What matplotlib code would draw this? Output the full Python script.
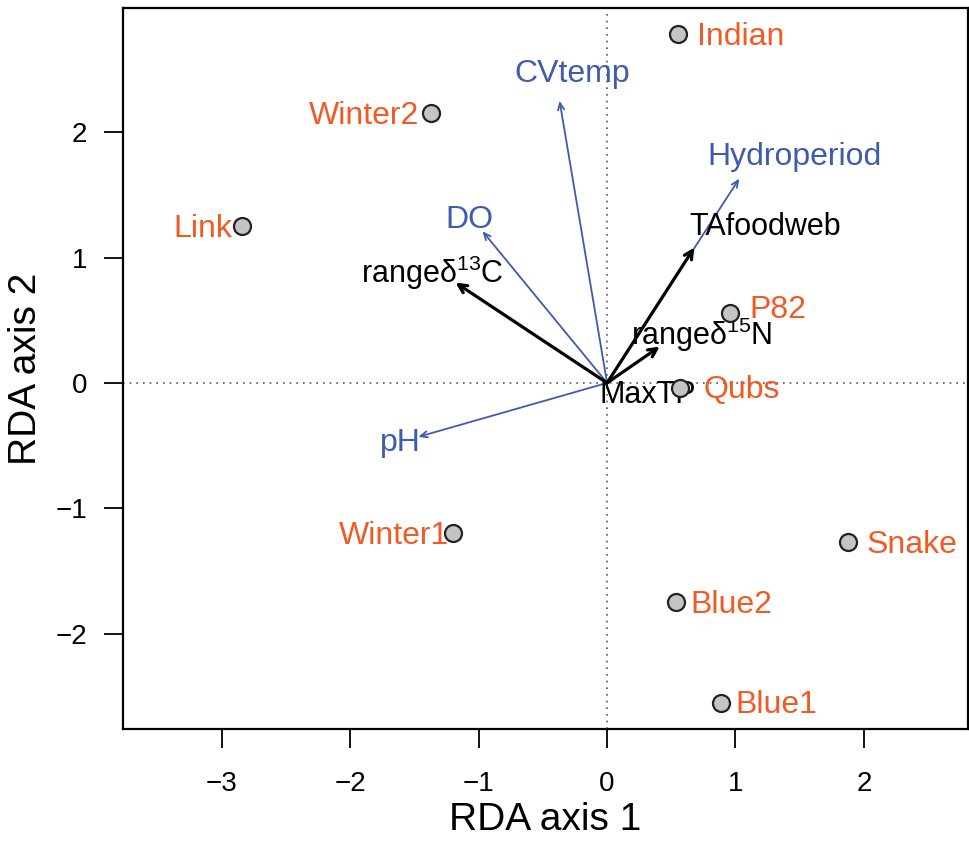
import matplotlib
matplotlib.use("Agg")
import matplotlib.pyplot as plt

plt.rcParams['font.family'] = ['Liberation Sans', 'DejaVu Sans']
plt.rcParams['mathtext.fontset'] = 'custom'
plt.rcParams['mathtext.rm'] = 'Liberation Sans'
plt.rcParams['mathtext.it'] = 'Liberation Sans'

# site scores
sites = ["Indian", "Winter2", "Link", "P82", "Qubs", "Winter1", "Snake", "Blue2", "Blue1"]
site_x = [0.55, -1.37, -2.84, 0.96, 0.57, -1.20, 1.88, 0.54, 0.89]
site_y = [2.78, 2.15, 1.25, 0.56, -0.04, -1.20, -1.27, -1.75, -2.55]
# label side: 'l' = label to left of point, 'r' = to right
site_side = ["r", "l", "l", "r", "r", "l", "r", "r", "r"]
site_lab_x = [0.70, -1.46, -2.92, 1.11, 0.75, -1.23, 2.02, 0.65, 1.00]
site_lab_y = [2.76, 2.13, 1.23, 0.58, -0.06, -1.22, -1.29, -1.77, -2.57]

# environmental vectors (blue)
env = ["CVtemp", "Hydroperiod", "DO", "pH"]
env_x = [-0.37, 1.03, -0.97, -1.47]
env_y = [2.25, 1.63, 1.21, -0.43]
env_lab_x = [-0.27, 1.46, -1.07, -1.61]
env_lab_y = [2.46, 1.80, 1.30, -0.48]

# food web metrics (black)
fw = ["range\u03b4$^{13}$C", "TAfoodweb", "range\u03b4$^{15}$N", "MaxTP"]
fw_x = [-1.18, 0.68, 0.41, 0.0]
fw_y = [0.80, 1.08, 0.29, 0.0]
fw_lab_x = [-1.36, 1.23, 0.74, 0.32]
fw_lab_y = [0.88, 1.24, 0.38, -0.10]

orange = '#f15a24'
blue = '#3f5bab'

fig = plt.figure(figsize=(9.7, 8.43), dpi=100)
ax = fig.add_axes([0.1268, 0.1352, 0.871, 0.8553])
ax.set_xlim(-3.77, 2.81)
ax.set_ylim(-2.76, 2.99)

ax.axhline(0, color='#555555', linestyle=(0, (1, 3)), lw=1.2, zorder=1)
ax.axvline(0, color='#555555', linestyle=(0, (1, 3)), lw=1.2, zorder=1)

# blue arrows
for x, y in zip(env_x, env_y):
    ax.annotate("", xy=(x, y), xytext=(0, 0),
                arrowprops=dict(arrowstyle="->,head_length=0.5,head_width=0.22",
                                color=blue, lw=1.3, shrinkA=0, shrinkB=0), zorder=2)
for name, x, y in zip(env, env_lab_x, env_lab_y):
    ax.text(x, y, name, color=blue, fontsize=23, ha='center', va='center', zorder=4)

# black arrows
for x, y in zip(fw_x, fw_y):
    if x == 0 and y == 0:
        continue
    ax.annotate("", xy=(x, y), xytext=(0, 0),
                arrowprops=dict(arrowstyle="->,head_length=0.6,head_width=0.3",
                                color='black', lw=2.3, shrinkA=0, shrinkB=0), zorder=3)
for name, x, y in zip(fw, fw_lab_x, fw_lab_y):
    ax.text(x, y, name, color='black', fontsize=22, ha='center', va='center', zorder=4)

# sites
ax.scatter(site_x, site_y, s=150, facecolor='#c4c4c4', edgecolor='#222222',
           linewidth=1.6, zorder=5)
for name, side, x, y in zip(sites, site_side, site_lab_x, site_lab_y):
    ax.text(x, y, name, color=orange, fontsize=23, va='center',
            ha='left' if side == 'r' else 'right', zorder=6)

ax.set_xticks([-3, -2, -1, 0, 1, 2])
ax.set_yticks([-2, -1, 0, 1, 2])
ax.set_xticklabels(['\u22123', '\u22122', '\u22121', '0', '1', '2'])
ax.set_yticklabels(['\u22122', '\u22121', '0', '1', '2'])
ax.tick_params(direction='out', length=14, width=1.3, labelsize=20, pad=12)
ax.tick_params(axis='x', pad=16)
for sp in ax.spines.values():
    sp.set_linewidth(1.6)

ax.set_xlabel("RDA axis 1", fontsize=28, labelpad=4)
ax.set_ylabel("RDA axis 2", fontsize=28, labelpad=8)

fig.savefig("out.png", dpi=100)
